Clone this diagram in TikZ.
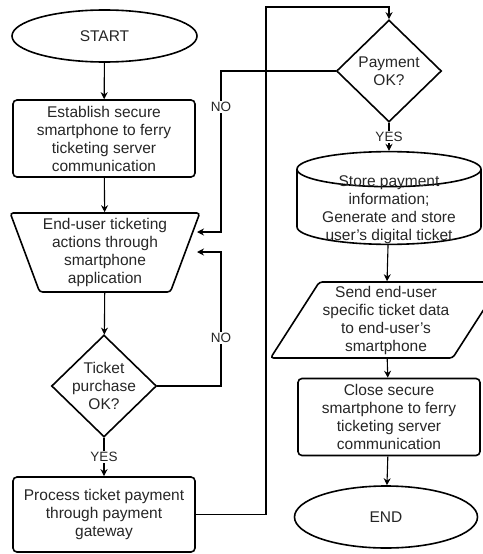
\documentclass[tikz,border=0pt]{standalone}
\usepackage{fontspec}
\setmainfont{Liberation Sans}
\usetikzlibrary{shapes.geometric,arrows.meta}

\tikzset{
  shapeline/.style={draw=black, line width=1.6pt, align=center, font=\fontsize{15.5}{18}\selectfont, text=black!85},
  process/.style={shapeline, rectangle, rounded corners=4pt, minimum width=182, minimum height=77},
  terminal/.style={shapeline, ellipse, minimum width=185, minimum height=52},
  decision/.style={shapeline, diamond, inner sep=0pt, minimum width=105, minimum height=102},
  manual/.style={shapeline, trapezium, trapezium stretches=true, rounded corners=3pt},
  storage/.style={shapeline, cylinder, shape border rotate=90, aspect=0.25, inner ysep=-12pt},
  flow/.style={line width=1.1pt, -{Stealth[length=7pt,width=7pt]}},
  answer/.style={fill=white, inner sep=1.5pt, font=\fontsize{13.5}{16}\selectfont, text=black!85}
}

\begin{document}
\begin{tikzpicture}[x=1pt, y=-1pt]
\useasboundingbox (0,0) rectangle (482,554);

% left column
\node[terminal] (start) at (104.5,36) {START};
\node[process] (establish) at (104,138.5) {Establish secure\\smartphone to ferry\\ticketing server\\communication};
\node[manual, trapezium left angle=68.6, trapezium right angle=68.6, shape border rotate=180,
      minimum width=184, minimum height=79] (actions) at (105,252.5) {End-user ticketing\\actions through\\smartphone\\application};
\node[decision, label={[align=center, font=\fontsize{15.5}{18}\selectfont, text=black!85]center:Ticket\\purchase\\OK?}] (purchase) at (104,386) {};
\node[process, minimum height=75] (payproc) at (104,514.5) {Process ticket payment\\through payment\\gateway};

% right column
\node[decision, label={[align=center, font=\fontsize{15.5}{18}\selectfont, text=black!85]center:Payment\\OK?}] (payment) at (389,71) {};
\node[storage, minimum width=184, minimum height=85] (store) at (389,209.5) {Store payment\\information;\\Generate and store\\user's digital ticket};
\node[manual, trapezium left angle=57, trapezium right angle=123,
      minimum width=190, minimum height=76] (send) at (386,320) {Send end-user\\specific ticket data\\to end-user's\\smartphone};
\node[process] (close) at (389,417) {Close secure\\smartphone to ferry\\ticketing server\\communication};
\node[terminal, minimum width=183, minimum height=62] (end) at (386,517) {END};

% loop lanes
\coordinate (lane) at (221,0);
\coordinate (backA) at (197,232);
\coordinate (backB) at (197,252);
\coordinate (topway) at (266,7);

\draw[flow] (start) -- (establish);
\draw[flow] (establish) -- (actions);
\draw[flow] (actions) -- (purchase);
\draw[flow] (purchase) -- node[answer] (yesA) {YES} (payproc);
\draw[flow] (purchase.east) -| (lane |- backB) -- (backB);
\node[answer] (noA) at (221,338) {NO};
\draw[flow] (payment.west) -| (lane |- backA) -- (backA);
\node[answer] (noB) at (221,107) {NO};
\draw[flow] (payproc.east) -| (topway) -| (payment.north);
\draw[flow] (payment) -- node[answer] (yesB) {YES} (store);
\draw[flow] (store) -- (send);
\draw[flow] (send) -- (close);
\draw[flow] (close) -- (end);
\end{tikzpicture}
\end{document}
